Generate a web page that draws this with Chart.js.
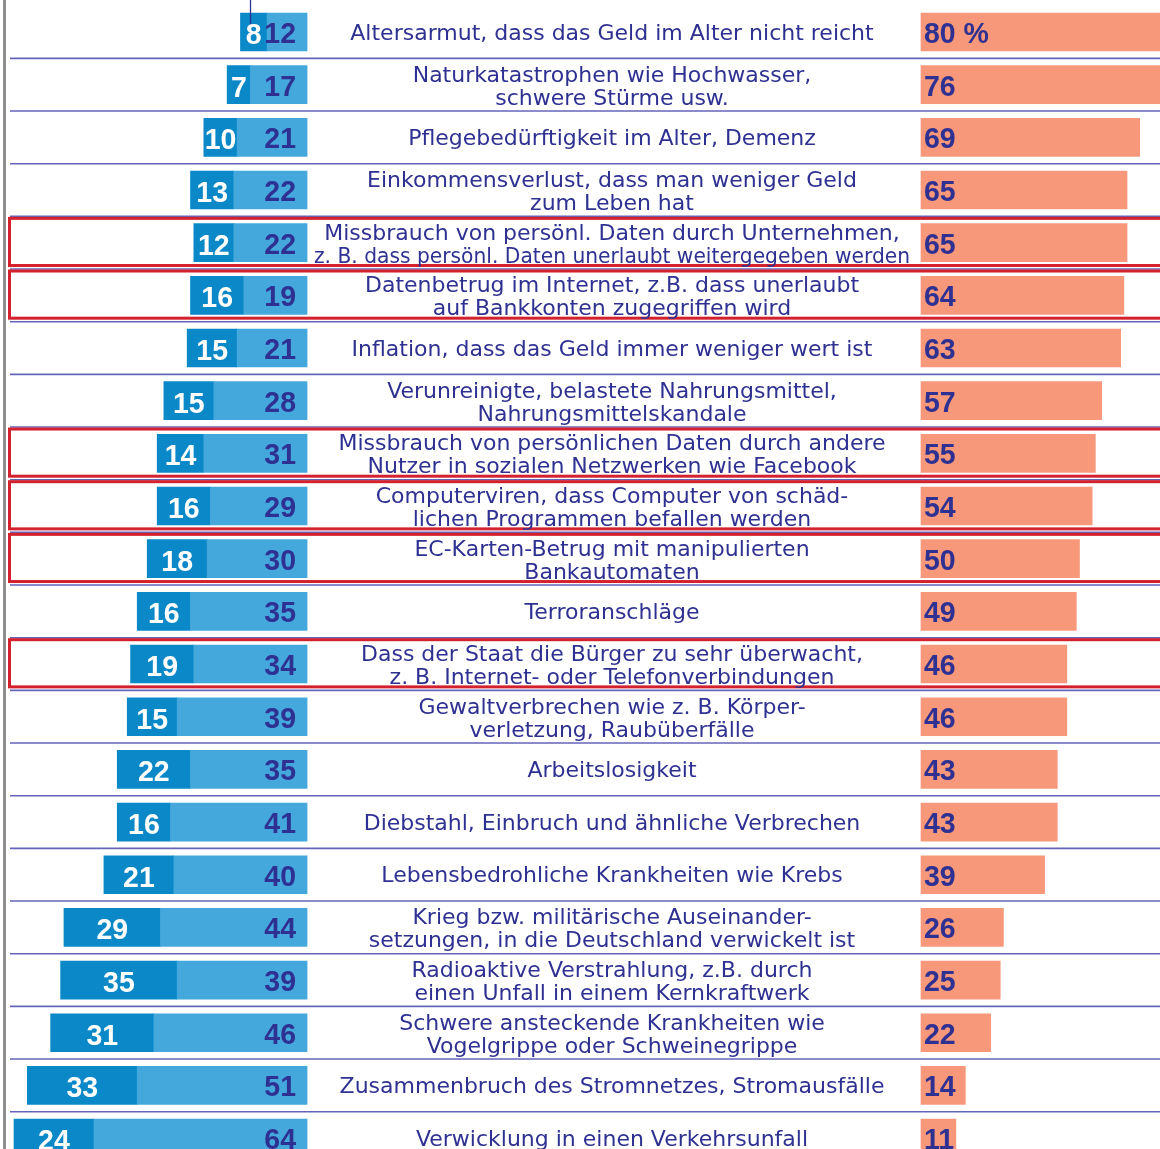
<!DOCTYPE html>
<html><head><meta charset="utf-8">
<script src="https://cdn.jsdelivr.net/npm/chart.js@4.4.1/dist/chart.umd.min.js"></script>
<style>
html,body{margin:0;padding:0;background:#fff;width:1160px;height:1149px;overflow:hidden;}
#wrap{position:absolute;left:0;top:0;width:1160px;height:1170px;}
</style></head><body>
<div id="wrap"><canvas id="c" width="1160" height="1170"></canvas></div>
<script>
const categories = [
  ["Altersarmut, dass das Geld im Alter nicht reicht"],
  ["Naturkatastrophen wie Hochwasser,", "schwere Stürme usw."],
  ["Pflegebedürftigkeit im Alter, Demenz"],
  ["Einkommensverlust, dass man weniger Geld", "zum Leben hat"],
  ["Missbrauch von persönl. Daten durch Unternehmen,", "z. B. dass persönl. Daten unerlaubt weitergegeben werden"],
  ["Datenbetrug im Internet, z.B. dass unerlaubt", "auf Bankkonten zugegriffen wird"],
  ["Inflation, dass das Geld immer weniger wert ist"],
  ["Verunreinigte, belastete Nahrungsmittel,", "Nahrungsmittelskandale"],
  ["Missbrauch von persönlichen Daten durch andere", "Nutzer in sozialen Netzwerken wie Facebook"],
  ["Computerviren, dass Computer von schäd-", "lichen Programmen befallen werden"],
  ["EC-Karten-Betrug mit manipulierten", "Bankautomaten"],
  ["Terroranschläge"],
  ["Dass der Staat die Bürger zu sehr überwacht,", "z. B. Internet- oder Telefonverbindungen"],
  ["Gewaltverbrechen wie z. B. Körper-", "verletzung, Raubüberfälle"],
  ["Arbeitslosigkeit"],
  ["Diebstahl, Einbruch und ähnliche Verbrechen"],
  ["Lebensbedrohliche Krankheiten wie Krebs"],
  ["Krieg bzw. militärische Auseinander-", "setzungen, in die Deutschland verwickelt ist"],
  ["Radioaktive Verstrahlung, z.B. durch", "einen Unfall in einem Kernkraftwerk"],
  ["Schwere ansteckende Krankheiten wie", "Vogelgrippe oder Schweinegrippe"],
  ["Zusammenbruch des Stromnetzes, Stromausfälle"],
  ["Verwicklung in einen Verkehrsunfall"]
];
const darkValues   = [8, 7, 10, 13, 12, 16, 15, 15, 14, 16, 18, 16, 19, 15, 22, 16, 21, 29, 35, 31, 33, 24];
const lightValues  = [12, 17, 21, 22, 22, 19, 21, 28, 31, 29, 30, 35, 34, 39, 35, 41, 40, 44, 39, 46, 51, 64];
const salmonValues = [80, 76, 69, 65, 65, 64, 63, 57, 55, 54, 50, 49, 46, 46, 43, 43, 39, 26, 25, 22, 14, 11];
const salmonLabels = salmonValues.map((v, i) => i === 0 ? v + ' %' : String(v));
const highlightedRows = [4, 5, 8, 9, 10, 12];

const INK = '#2e3192';
const LABEL_FONT = '22px "DejaVu Sans", sans-serif';
const NUM_FONT = 'bold 30px "Liberation Sans", Arial, sans-serif';
const LABEL_MAX_WIDTH = 596;

function drawText(ctx, s, x, y, align, font, color, sx, maxW) {
  ctx.save();
  ctx.font = font; ctx.fillStyle = color;
  ctx.textBaseline = 'alphabetic'; ctx.textAlign = align;
  ctx.translate(x, y); ctx.scale(sx || 1, 1);
  if (maxW) ctx.fillText(s, 0, 0, maxW); else ctx.fillText(s, 0, 0);
  ctx.restore();
}

const decor = {
  id: 'decor',
  beforeDatasetsDraw(chart) {
    const ctx = chart.ctx, y = chart.scales.y, area = chart.chartArea;
    ctx.save();
    ctx.fillStyle = '#8e8e8e';
    ctx.fillRect(3, 0, 3, chart.height);
    ctx.strokeStyle = '#6464bb'; ctx.lineWidth = 1.6;
    for (let i = 0; i < categories.length - 1; i++) {
      const yy = (y.getPixelForValue(i) + y.getPixelForValue(i + 1)) / 2;
      ctx.beginPath(); ctx.moveTo(10, yy); ctx.lineTo(area.right, yy); ctx.stroke();
    }
    ctx.restore();
  },
  afterDatasetsDraw(chart) {
    const ctx = chart.ctx, y = chart.scales.y;
    const half = (y.getPixelForValue(1) - y.getPixelForValue(0)) / 2;
    ctx.save();
    ctx.strokeStyle = '#d3222e'; ctx.lineWidth = 3;
    highlightedRows.forEach(i => {
      const c = y.getPixelForValue(i);
      const top = c - half + 2, bottom = c + half - 3.5;
      ctx.strokeRect(9.5, top, 1200, bottom - top);
    });
    ctx.strokeStyle = INK; ctx.lineWidth = 1.3;
    ctx.beginPath(); ctx.moveTo(250.5, 0); ctx.lineTo(250.5, 33); ctx.stroke();
    ctx.restore();

    const mLight = chart.getDatasetMeta(0), mDark = chart.getDatasetMeta(1), mSal = chart.getDatasetMeta(2);
    categories.forEach((lab, i) => {
      const c = y.getPixelForValue(i);
      const eL = mLight.data[i], eD = mDark.data[i], eS = mSal.data[i];
      drawText(ctx, String(lightValues[i]), Math.max(eL.x, eL.base) - 11, c + 11, 'right', NUM_FONT, INK, 0.95);
      drawText(ctx, String(darkValues[i]), (eD.x + eD.base) / 2, c + 12, 'center', NUM_FONT, '#ffffff', 0.95);
      drawText(ctx, salmonLabels[i], Math.min(eS.x, eS.base) + 3, c + 11, 'left', NUM_FONT, INK, 0.95);
      if (lab.length === 1) {
        drawText(ctx, lab[0], 612, c + 7.5, 'center', LABEL_FONT, INK, 1, LABEL_MAX_WIDTH);
      } else {
        drawText(ctx, lab[0], 612, c - 3, 'center', LABEL_FONT, INK, 1, LABEL_MAX_WIDTH);
        drawText(ctx, lab[1], 612, c + 20, 'center', LABEL_FONT, INK, 1, LABEL_MAX_WIDTH);
      }
    });
  }
};

new Chart(document.getElementById('c'), {
  type: 'bar',
  data: {
    labels: categories,
    datasets: [
      { label: 'hell', data: lightValues, xAxisID: 'xl', stack: 's', backgroundColor: '#45a8dc', barThickness: 38, borderWidth: 0 },
      { label: 'dunkel', data: darkValues, xAxisID: 'xl', stack: 's', backgroundColor: '#0a88c7', barThickness: 38, borderWidth: 0 },
      { label: 'lachs', data: salmonValues, xAxisID: 'xr', stack: 's', backgroundColor: '#f7987a', barThickness: 38, borderWidth: 0 }
    ]
  },
  options: {
    indexAxis: 'y',
    responsive: false,
    animation: false,
    events: [],
    layout: { padding: { left: 10, right: 0, top: 5.67, bottom: 5.6 } },
    scales: {
      y: { type: 'category', display: false, stacked: true, offset: true },
      xl: { axis: 'x', type: 'linear', display: false, reverse: true, min: -256.1, max: 89.2, stacked: true, bounds: 'data' },
      xr: { axis: 'x', type: 'linear', display: false, min: -287.4, max: 75.4, stacked: true, bounds: 'data' }
    },
    plugins: { legend: { display: false }, tooltip: { enabled: false } }
  },
  plugins: [decor]
});
</script>
</body></html>
